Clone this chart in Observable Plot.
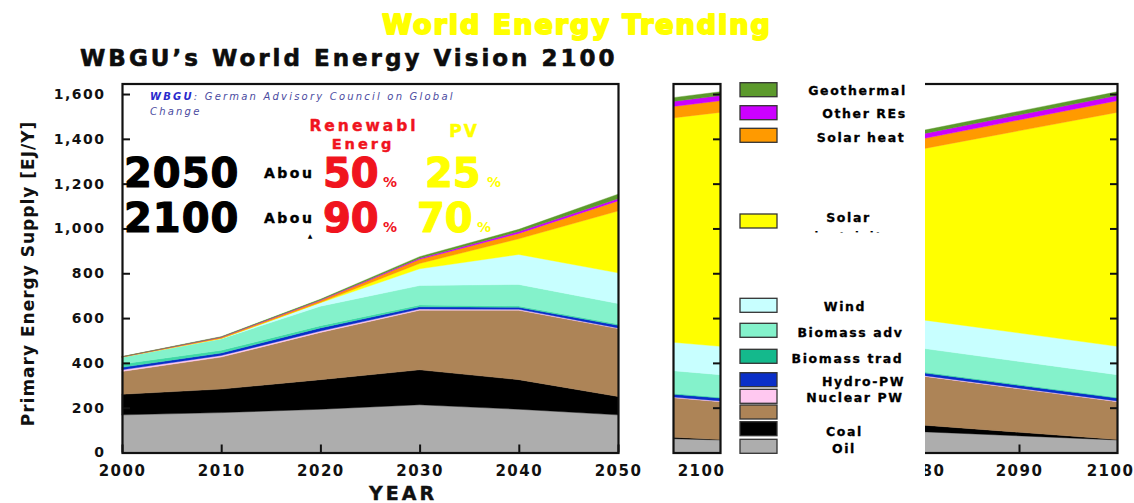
<!DOCTYPE html>
<html><head><meta charset="utf-8">
<script src="https://cdn.jsdelivr.net/npm/d3@7"></script>
<script src="https://cdn.jsdelivr.net/npm/@observablehq/plot@0.6"></script>
<style>
html,body{margin:0;padding:0;background:#fff;}
#wrap{position:relative;width:1134px;height:503px;overflow:hidden;}
#wrap svg{position:absolute;left:0;top:0;}
.ax text{letter-spacing:1.5px;}
.ax g[aria-label="y-axis tick label"] text{font-size:14px;font-weight:bold;}
.ax g[aria-label="x-axis tick label"] text{font-size:15px;font-weight:bold;}
</style></head><body><div id="wrap"></div>
<script>
// ---------- data ----------
const years = [2000, 2010, 2020, 2030, 2040, 2050];
const yearsLate = [2080, 2100];
const seriesNames = ["Oil","Coal","Gas","Nuclear PW","Hydro-PW","Biomass trad","Biomass adv","Wind","Solar electricity","Solar heat","Other REs","Geothermal"];
const seriesColors = ["#adadad","#000000","#ad8457","#ffc8f0","#0a2fc8","#3fd9a6","#84f2cb","#c8ffff","#ffff00","#ff9a00","#cc00ff","#5c9a2c"];

const oil       = [168, 178, 193, 213, 193, 168];
const coal      = [92, 105, 132, 156, 132, 82];
const gas       = [102, 143, 211, 266, 310, 303];
const nuclear   = [7, 7, 6, 5, 4, 3];
const hydro     = [11, 11, 14, 10, 9, 12];
const bioTrad   = [15, 12, 10, 8, 6, 5];
const bioAdv    = [31, 51, 87, 87, 96, 92];
const wind      = [0, 2, 15, 75, 134, 137];
const solarElec = [0, 0, 2, 24, 70, 276];
const solarHeat = [1, 5, 8, 18, 24, 45];
const otherREs  = [0, 1, 3, 5, 8, 10];
const geo       = [1, 2, 3, 7, 10, 20];

const oilLate       = [93, 56];
const coalLate      = [30, 2];
const gasLate       = [219, 169];
const nuclearLate   = [3, 3];
const hydroLate     = [12, 13];
const bioTradLate   = [5, 4];
const bioAdvLate    = [104, 100];
const windLate      = [127, 127];
const solarElecLate = [761, 1044];
const solarHeatLate = [45, 52];
const otherREsLate  = [22, 23];
const geoLate       = [15, 17];

const yTicks = [0, 200, 400, 600, 800, 1000, 1200, 1400, 1600];
const xTicksMain = [2000, 2010, 2020, 2030, 2040, 2050];

const legendNames  = ["Geothermal","Other REs","Solar heat","Solar","Wind","Biomass adv","Biomass trad","Hydro-PW","Nuclear PW","","Coal","Oil"];
const legendColors = ["#5c9a2c","#cc00ff","#ff9a00","#ffff00","#c8ffff","#84f2cb","#14b98c","#0a2fc8","#ffc8f0","#ad8457","#000000","#adadad"];

// ---------- build tables ----------
const mainSeries = [oil, coal, gas, nuclear, hydro, bioTrad, bioAdv, wind, solarElec, solarHeat, otherREs, geo];
const lateSeries = [oilLate, coalLate, gasLate, nuclearLate, hydroLate, bioTradLate, bioAdvLate, windLate, solarElecLate, solarHeatLate, otherREsLate, geoLate];
const mainData = [], lateData = [];
seriesNames.forEach((s, i) => {
  years.forEach((y, j) => mainData.push({year: y, series: s, value: mainSeries[i][j]}));
  yearsLate.forEach((y, j) => lateData.push({year: y, series: s, value: lateSeries[i][j]}));
});

const W = 1134, H = 503;
const mTop = 83.5, mBottom = H - 452.5;
const yDomain = [0, 1647];
const FONT = "DejaVu Sans";
const colorScale = {domain: seriesNames, range: seriesColors};
const wrap = document.getElementById("wrap");

function area(data, clip) {
  return Plot.areaY(data, {x: "year", y: "value", fill: "series", stroke: "series", strokeWidth: 0.4, order: null, clip});
}

// main panel
const mainPlot = Plot.plot({
  width: W, height: H, className: "ax",
  marginLeft: 122, marginRight: W - 618, marginTop: mTop, marginBottom: mBottom,
  style: {background: "transparent", fontFamily: FONT, fontWeight: "bold", color: "#111"},
  x: {domain: [2000, 2050], label: null},
  y: {domain: yDomain, label: null},
  color: colorScale,
  marks: [
    area(mainData, false),
    Plot.frame({stroke: "#111", strokeWidth: 2.2}),
    Plot.axisY({ticks: yTicks, tickFormat: d3.format(","), tickSize: -8, tickPadding: 25, strokeWidth: 2, fontSize: 14, fontWeight: "bold", fontFamily: FONT, label: null}),
    Plot.axisX({ticks: xTicksMain, tickFormat: d => String(d), tickSize: -8, tickPadding: 20.5, strokeWidth: 2, fontSize: 15, fontWeight: "bold", fontFamily: FONT, label: null})
  ]
});
wrap.appendChild(mainPlot);

// narrow 2100 panel
const narrowPlot = Plot.plot({
  width: W, height: H, className: "ax",
  marginLeft: 673, marginRight: W - 720, marginTop: mTop, marginBottom: mBottom,
  style: {background: "transparent", fontFamily: FONT, fontWeight: "bold", color: "#111"},
  x: {domain: [2097, 2100], label: null},
  y: {domain: yDomain, label: null},
  color: colorScale,
  marks: [
    area(lateData, true),
    Plot.frame({stroke: "#111", strokeWidth: 2.2}),
    Plot.axisY({anchor: "right", ticks: yTicks, tickFormat: () => "", tickSize: -8, strokeWidth: 2, label: null}),
    Plot.axisX({ticks: [2100], tickFormat: d => String(d), tickSize: 0, tickPadding: 12.5, dx: -19, fontSize: 15, fontWeight: "bold", fontFamily: FONT, label: null})
  ]
});
wrap.appendChild(narrowPlot);

// right panel 2080-2100
const rightPlot = Plot.plot({
  width: W, height: H, className: "ax",
  marginLeft: 921, marginRight: W - 1117, marginTop: mTop, marginBottom: mBottom,
  style: {background: "transparent", fontFamily: FONT, fontWeight: "bold", color: "#111"},
  x: {domain: [2080, 2100], label: null},
  y: {domain: yDomain, label: null},
  color: colorScale,
  marks: [
    area(lateData, true),
    Plot.frame({stroke: "#111", strokeWidth: 2.2}),
    Plot.axisY({anchor: "right", ticks: yTicks, tickFormat: () => "", tickSize: -8, strokeWidth: 2, label: null}),
    Plot.axisX({ticks: [2080, 2090], tickFormat: d => String(d), tickSize: -8, tickPadding: 20.5, strokeWidth: 2, fontSize: 15, fontWeight: "bold", fontFamily: FONT, label: null}),
    Plot.axisX({ticks: [2100], tickFormat: d => String(d), tickSize: 0, tickPadding: 12.5, dx: -7, fontSize: 15, fontWeight: "bold", fontFamily: FONT, label: null})
  ]
});
wrap.appendChild(rightPlot);

// ---------- overlay: legend and annotations ----------
const svg = d3.select(wrap).append("svg").attr("width", W).attr("height", H)
  .style("font-family", FONT).style("font-weight", "bold");

function txt(s, x, y, o = {}) {
  const t = svg.append("text").attr("x", x).attr("y", y)
    .attr("text-anchor", o.anchor || "start")
    .attr("font-size", o.size || 12)
    .attr("fill", o.fill || "#000")
    .style("letter-spacing", (o.ls || 0) + "px");
  if (o.weight) t.attr("font-weight", o.weight);
  if (o.style) t.attr("font-style", o.style);
  if (o.sw) t.attr("stroke", o.fill || "#000").attr("stroke-width", o.sw).attr("stroke-linejoin", "round");
  if (o.rotate) t.attr("transform", `rotate(${o.rotate},${x},${y})`);
  if (o.clip) t.attr("clip-path", o.clip);
  t.text(s);
  return t;
}

// legend box (white) over the hidden part of the right panel
svg.append("rect").attr("x", 724).attr("y", 70).attr("width", 201).attr("height", 433).attr("fill", "#fff");
const swatchTops = [82.7, 105.7, 128.3, 214, 298.3, 323.3, 349.3, 372.7, 389.3, 405, 421.7, 439.3];
const labelBase  = [95, 117.7, 141.7, 221.7, 310.7, 336.7, 362.7, 386, 401.7, 0, 436, 453];
const labelX     = [857.5, 864.5, 861, 848.5, 845, 850.5, 847.5, 863.5, 855, 0, 844.5, 844];
legendColors.forEach((c, i) => {
  svg.append("rect").attr("x", 740).attr("y", swatchTops[i]).attr("width", 37).attr("height", 14)
    .attr("fill", c).attr("stroke", "#333").attr("stroke-width", 1.3);
  if (legendNames[i]) txt(legendNames[i], labelX[i], labelBase[i], {anchor: "middle", size: 12.5, ls: 1.6, sw: 0.3});
});
svg.append("clipPath").attr("id", "clipElec").append("rect").attr("x", 790).attr("y", 200).attr("width", 120).attr("height", 32.5);
txt("electricity", 848.5, 241, {anchor: "middle", size: 12.5, ls: 1.6, clip: "url(#clipElec)"});

// titles
txt("World Energy Trending", 577, 34, {anchor: "middle", size: 27, ls: 2, fill: "#ffff00", sw: 2});
txt("WBGU\u2019s World Energy Vision 2100", 80, 66, {size: 23, ls: 3, fill: "#0d0d0d", sw: 0.6});
txt("Primary Energy Supply [EJ/Y]", 34, 273.5, {anchor: "middle", size: 17, ls: 1, rotate: -90, fill: "#111"});
txt("YEAR", 403, 500, {anchor: "middle", size: 19, ls: 3, fill: "#111", sw: 0.4});

// WBGU note
const note = svg.append("text").attr("x", 150).attr("y", 100).attr("font-size", 10)
  .attr("font-style", "italic").attr("font-weight", "normal").style("letter-spacing", "2.2px").attr("fill", "#4a4aa0");
note.append("tspan").attr("font-weight", "bold").attr("fill", "#2a2acc").text("WBGU");
note.append("tspan").text(": German Advisory Council on Global");
txt("Change", 150, 115, {size: 10, ls: 2.2, weight: "normal", style: "italic", fill: "#4a4aa0"});

// headline annotations
const RED = "#f0141e", YEL = "#ffff00";
txt("Renewabl", 364, 131, {anchor: "middle", size: 15.5, ls: 3, fill: RED, sw: 0.4});
txt("Energ", 363, 149, {anchor: "middle", size: 14.5, ls: 3, fill: RED, sw: 0.4});
txt("PV", 464, 137, {anchor: "middle", size: 17, ls: 2, fill: YEL, sw: 0.5});

txt("2050", 124, 187, {size: 40, ls: 1, sw: 1.2});
txt("2100", 124, 232, {size: 40, ls: 1, sw: 1.2});
txt("Abou", 264, 178, {size: 14, ls: 2.5, sw: 0.4});
txt("Abou", 264, 223, {size: 14, ls: 2.5, sw: 0.4});
txt("50", 323, 187, {size: 40, fill: RED, sw: 1.2});
txt("%", 383, 187, {size: 14, fill: RED});
txt("90", 323, 232, {size: 40, fill: RED, sw: 1.2});
txt("%", 383, 232, {size: 14, fill: RED});
txt("25", 425, 187, {size: 40, fill: YEL, sw: 1.2});
txt("%", 487, 187, {size: 14, fill: YEL});
txt("70", 417, 232, {size: 40, fill: YEL, sw: 1.2});
txt("%", 477, 232, {size: 14, fill: YEL});
txt("\u25B2", 310, 238, {anchor: "middle", size: 6});
</script></body></html>
